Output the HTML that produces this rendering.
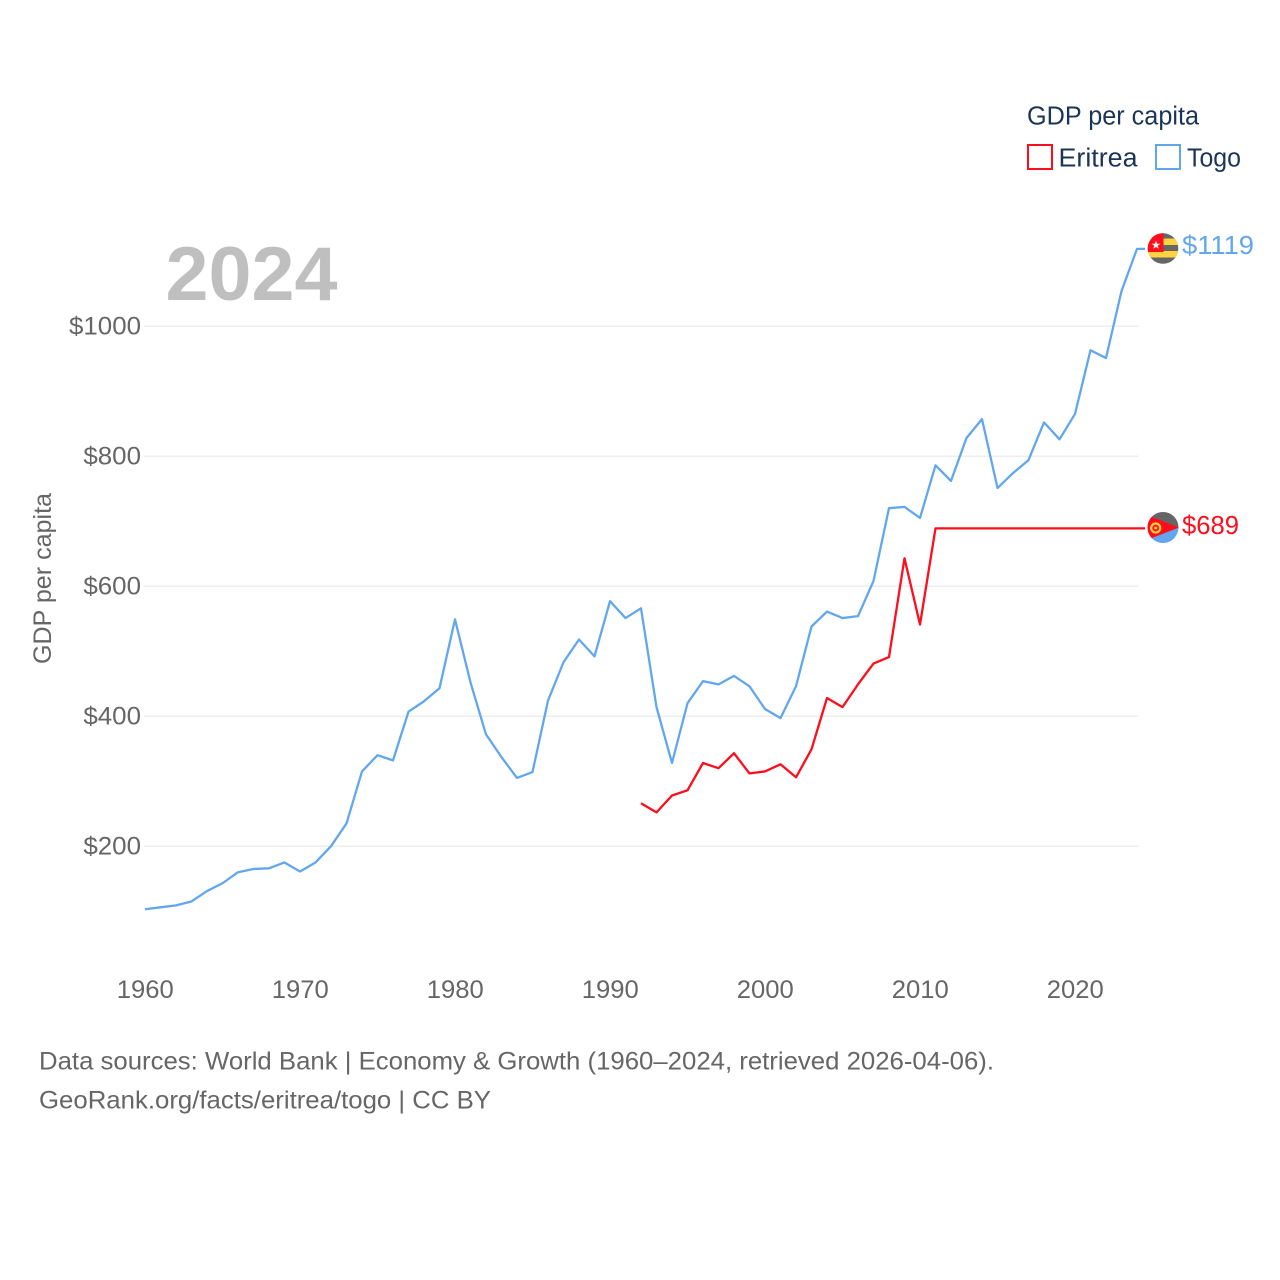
<!DOCTYPE html>
<html lang="en">
<head>
<meta charset="utf-8">
<title>GDP per capita: Eritrea and Togo</title>
<style>
html,body{margin:0;padding:0;background:#fff;}
svg{display:block;}
text{font-family:"Liberation Sans",sans-serif;}
</style>
</head>
<body>
<svg id="chart" xmlns="http://www.w3.org/2000/svg" width="1280" height="1280" viewBox="0 0 1280 1280">
  <defs>
    <clipPath id="clip-togo"><circle cx="1163" cy="248.5" r="15.300"/></clipPath>
    <clipPath id="clip-eritrea"><circle cx="1163" cy="527.5" r="15.500"/></clipPath>
  </defs>
  <rect x="0" y="0" width="1280" height="1280" fill="#fff"/>
  <g id="grid"></g>
  <text x="165.500" y="300" font-size="76" font-weight="700" fill="#bfbfbf" textLength="172" lengthAdjust="spacingAndGlyphs">2024</text>
  <g id="y-ticks"></g>
  <g id="x-ticks"></g>
  <text transform="translate(51,664) rotate(-90)" x="0" y="0" font-size="25" fill="#666" textLength="171" lengthAdjust="spacingAndGlyphs">GDP per capita</text>
  <g id="series"></g>

  <g>
    <text x="1027" y="124.500" font-size="25.500" fill="#1a3557" textLength="172" lengthAdjust="spacingAndGlyphs">GDP per capita</text>
    <g>
      <rect x="1028" y="145" width="24" height="24" fill="none" stroke="#ff0d1c" stroke-width="2"/>
      <text x="1058.500" y="166.500" font-size="25.500" fill="#1a3557" textLength="79" lengthAdjust="spacingAndGlyphs">Eritrea</text>
    </g>
    <g>
      <rect x="1156" y="145" width="24" height="24" fill="none" stroke="#62a7ee" stroke-width="2"/>
      <text x="1187" y="166.500" font-size="25.500" fill="#1a3557" textLength="54" lengthAdjust="spacingAndGlyphs">Togo</text>
    </g>
  </g>

  <g clip-path="url(#clip-togo)">
    <rect x="1147" y="233" width="32" height="32" fill="#666"/>
    <rect x="1147" y="238.500" width="32" height="6.500" fill="#ffd23f"/>
    <rect x="1147" y="251" width="32" height="6.500" fill="#ffd23f"/>
    <rect x="1147" y="233" width="16.500" height="19" fill="#ff0d1c"/>
    <polygon points="1156,240.500 1157.100,243.600 1160.300,243.700 1157.800,245.700 1158.700,248.800 1156,247 1153.300,248.800 1154.200,245.700 1151.700,243.700 1154.900,243.600" fill="#eee"/>
  </g>
  <g clip-path="url(#clip-eritrea)">
    <rect x="1147" y="511" width="32" height="17" fill="#666"/>
    <rect x="1147" y="527.500" width="32" height="17" fill="#62a7ee"/>
    <polygon points="1147,515 1179,527.500 1147,540" fill="#ff0d1c"/>
    <circle cx="1155.700" cy="528" r="4.500" fill="none" stroke="#ffd23f" stroke-width="2.200"/>
    <circle cx="1155.700" cy="528" r="1.500" fill="#ffd23f"/>
  </g>
  <text id="end-label-togo" x="1182" y="254" font-size="25.500" fill="#62a7ee" textLength="72" lengthAdjust="spacingAndGlyphs"></text>
  <text id="end-label-eritrea" x="1182" y="534" font-size="25.500" fill="#ff0d1c" textLength="57" lengthAdjust="spacingAndGlyphs"></text>

  <g>
    <text x="39" y="1069.500" font-size="25" fill="#666" textLength="955" lengthAdjust="spacingAndGlyphs">Data sources: World Bank | Economy &amp; Growth (1960–2024, retrieved 2026-04-06).</text>
    <text x="39" y="1108.500" font-size="25" fill="#666" textLength="452" lengthAdjust="spacingAndGlyphs">GeoRank.org/facts/eritrea/togo | CC BY</text>
  </g>
</svg>
<script>
const yTickValues = [200, 400, 600, 800, 1000];
const xTickYears = [1960, 1970, 1980, 1990, 2000, 2010, 2020];
const togoStartYear = 1960;
const togoValues = [103, 106, 109, 115, 131, 143, 160, 165, 166, 175, 161, 175, 200, 235, 315, 340, 332, 407, 423, 443, 549, 452, 372, 337, 305, 314, 424, 483, 518, 492, 577, 551, 566, 414, 328, 420, 454, 449, 462, 446, 411, 397, 446, 538, 561, 551, 554, 608, 720, 722, 705, 786, 762, 828, 857, 751, 774, 794, 852, 826, 865, 963, 951, 1054, 1119];
const eritreaStartYear = 1992;
const eritreaValues = [266, 252, 278, 286, 328, 320, 343, 312, 315, 326, 306, 349, 428, 414, 449, 481, 491, 643, 541, 689, 689, 689, 689, 689, 689, 689, 689, 689, 689, 689, 689, 689, 689];

const NS = 'http://www.w3.org/2000/svg';
function xScale(year) { return 145 + (year - 1960) * 15.5; }
function yScale(value) { return 976.2 - value * 0.65; }
function make(tag, attrs, parent) {
  const el = document.createElementNS(NS, tag);
  Object.keys(attrs).forEach(function (k) { el.setAttribute(k, attrs[k]); });
  parent.appendChild(el);
  return el;
}

const grid = document.getElementById('grid');
const yTicks = document.getElementById('y-ticks');
const xTicks = document.getElementById('x-ticks');
const series = document.getElementById('series');

yTickValues.forEach(function (v) {
  const line = make('line', { x1: 144, x2: 1138, y1: yScale(v), y2: yScale(v), stroke: '#e9e9e9', 'stroke-width': 1.2 }, grid);
  
  
  const label = '$' + v;
  const t = make('text', { x: 141, y: yScale(v) + 8.5, 'font-size': 25, fill: '#666', 'text-anchor': 'end', textLength: label.length * 14.4, lengthAdjust: 'spacingAndGlyphs' }, yTicks);
  
  
  t.textContent = label;
});

xTickYears.forEach(function (y) {
  const t = make('text', { x: xScale(y) + 0.3, y: 998, 'font-size': 25, fill: '#666', 'text-anchor': 'middle', textLength: 57, lengthAdjust: 'spacingAndGlyphs' }, xTicks);
  
  
  t.textContent = String(y);
});

function drawSeries(values, startYear, color, name) {
  const pts = values.map(function (v, i) {
    return xScale(startYear + i).toFixed(2) + ',' + yScale(v).toFixed(2);
  });
  const last = values[values.length - 1];
  pts.push('1145,' + yScale(last).toFixed(2));
  const line = make('polyline', { points: pts.join(' '), fill: 'none', stroke: color, 'stroke-width': 2.3, 'stroke-linejoin': 'round' }, series);
  
  
  document.getElementById('end-label-' + name).textContent = '$' + last;
}

drawSeries(togoValues, togoStartYear, '#62a7ee', 'togo');
drawSeries(eritreaValues, eritreaStartYear, '#ff0d1c', 'eritrea');
</script>
</body>
</html>
